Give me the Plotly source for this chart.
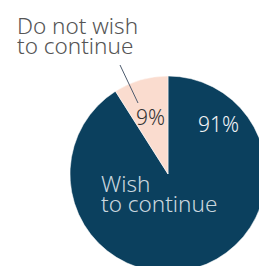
import plotly.graph_objects as go

# ---- data ----
labels = ["Wish to continue", "Do not wish to continue"]
values = [91, 9]
label_lines = [["Wish", "to continue"], ["Do not wish", "to continue"]]
colors = ["#0b405e", "#fadccf"]

W, H = 280, 280
FONT = "Noto Sans"

def px(x):
    return x / W

def py(y):
    return 1 - y / H

fig = go.Figure(go.Pie(
    labels=labels,
    values=values,
    sort=False,
    direction="clockwise",
    rotation=0,
    textinfo="none",
    hoverinfo="label+percent",
    marker=dict(colors=colors, line=dict(color="white", width=0.5)),
    domain=dict(x=[px(70), px(266)], y=[py(272), py(76)]),
    showlegend=False,
))

total = sum(values)
pcts = [f"{round(v / total * 100)}%" for v in values]

ann = []
# percentages
ann.append(dict(x=px(218.5), y=py(123.5), text=pcts[0], font=dict(color="#f2f4f6", size=21)))
ann.append(dict(x=px(150.5), y=py(117), text=pcts[1], font=dict(color="#333333", size=21)))
# inside label (Wish to continue)
for line, yy in zip(label_lines[0], [183, 202.5]):
    ann.append(dict(x=px(100), y=py(yy), text=line, xanchor="left",
                    font=dict(color="#c9d6de", size=22.5)))
# outside label (Do not wish to continue)
for line, yy in zip(label_lines[1], [25, 45.5]):
    ann.append(dict(x=px(15.5), y=py(yy), text=line, xanchor="left",
                    font=dict(color="#555555", size=22.5)))

for a in ann:
    a.update(xref="paper", yref="paper", showarrow=False, yanchor="middle",
             height=20, borderpad=0,
             font=dict(family=FONT, weight=300, **a["font"]))
    a.setdefault("xanchor", "center")

fig.update_layout(
    width=W, height=H,
    margin=dict(l=0, r=0, t=0, b=0),
    paper_bgcolor="white",
    plot_bgcolor="white",
    annotations=ann,
    shapes=[dict(type="line", xref="paper", yref="paper",
                 x0=px(120), y0=py(65), x1=px(138), y1=py(103),
                 line=dict(color="#4d5b6e", width=1))],
    font=dict(family=FONT),
)

fig.write_html("out.html", config={"displayModeBar": False},
               post_script="document.body.style.margin='0';document.body.style.overflow='hidden';document.documentElement.style.overflow='hidden';")
